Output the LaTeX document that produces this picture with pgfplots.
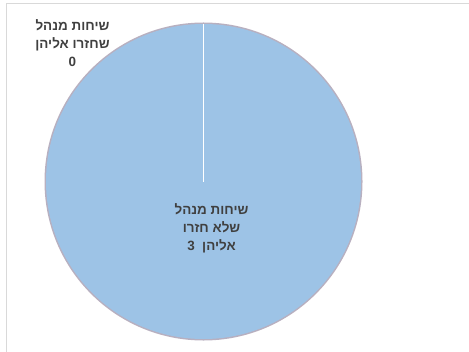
\documentclass[border=0pt]{standalone}
\usepackage{pgfplots}
\pgfplotsset{compat=1.18}
\usepackage{pgfplotstable}
\usepackage{fontspec}
\setmainfont{Liberation Sans}
\newfontfamily\hebfont[Script=Hebrew]{Liberation Sans}
\TeXXeTstate=1
\definecolor{pieblue}{HTML}{9DC3E6}
\definecolor{labelgray}{HTML}{404040}
\definecolor{framegray}{HTML}{D9D9D9}
\definecolor{edgegray}{HTML}{B8B0C0}

\pgfplotstableread{
value
0
3
}\piedata

\begin{document}
\begin{tikzpicture}[x=1bp,y=1bp]
\pgfplotstablegetelem{0}{value}\of\piedata \let\vA\pgfplotsretval
\pgfplotstablegetelem{1}{value}\of\piedata \let\vB\pgfplotsretval
\pgfmathsetmacro\tot{\vA+\vB}
\pgfmathsetmacro\aA{90}
\pgfmathsetmacro\aB{90-360*\vA/\tot}
\pgfmathsetmacro\aC{\aB-360*\vB/\tot}
\begin{scope}
\clip (0,0) rectangle (469,351);
\draw[framegray, line width=1bp] (6,-5) -- (6,347) -- (475,347);
\end{scope}
\begin{axis}[at={(0,0)}, anchor=south west, scale only axis,
  width=469bp, height=351bp,
  xmin=-1.2921, xmax=1.6857, ymin=-1.0762, ymax=1.1524,
  hide axis, clip=false]
\fill[edgegray] (axis cs:0,0) circle[radius=159bp];
\fill[pieblue] (axis cs:0,0) -- (axis cs:{cos(\aB)},{sin(\aB)}) arc[start angle=\aB, end angle=\aC, radius=157.5bp] -- cycle;
\draw[white, line width=1.8bp] (axis cs:0,0) -- (axis cs:{cos(\aA)},{sin(\aA)});
\draw[white, line width=1.8bp] (axis cs:0,0) -- (axis cs:{cos(\aB)},{sin(\aB)});
\node[align=center, font=\hebfont\bfseries\fontsize{13.5}{18}\selectfont, text=labelgray]
  at (axis cs:-0.832,0.879) {\beginR שיחות מנהל\endR\\ \beginR שחזרו אליהן\endR\\ 0};
\node[align=center, font=\hebfont\bfseries\fontsize{13.5}{18}\selectfont, text=labelgray]
  at (axis cs:0.051,-0.295) {\beginR שיחות מנהל\endR\\ \beginR שלא חזרו\endR\\ \beginR אליהן\ \ 3\endR};
\end{axis}
\pgfresetboundingbox
\useasboundingbox (0,0) rectangle (469,351);
\end{tikzpicture}
\end{document}
